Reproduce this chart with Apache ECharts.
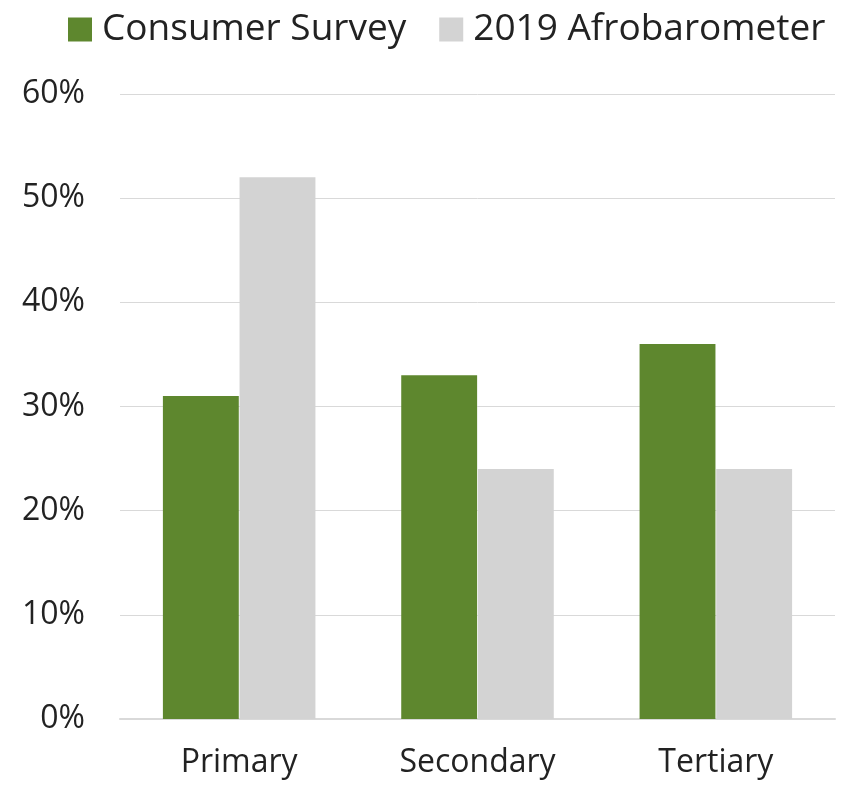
<!DOCTYPE html>
<html>
<head>
<meta charset="utf-8">
<script src="https://cdn.jsdelivr.net/npm/echarts@6/dist/echarts.min.js"></script>
<style>
  html, body { margin: 0; padding: 0; background: #fff; }
  #main { width: 851px; height: 785px; }
</style>
</head>
<body>
<div id="main"></div>
<script>
var categories = ["Primary", "Secondary", "Tertiary"];
var consumerSurvey = [31, 33, 36];
var afrobarometer = [52, 24, 24];
var seriesNames = ["Consumer Survey", "2019 Afrobarometer"];

var chartDom = document.getElementById("main");
var myChart = echarts.init(chartDom);
var option;

option = {
  animation: false,
  textStyle: { fontFamily: "Open Sans" },
  legend: {
    data: seriesNames,
    top: 6,
    left: 63,
    itemWidth: 24,
    itemHeight: 24,
    itemGap: 33,
    icon: "rect",
    textStyle: {
      fontSize: 37,
      color: "#222",
      fontFamily: "Open Sans",
      padding: [0, 0, 0, 5],
    },
  },
  grid: {
    left: 120,
    right: 16,
    top: 94,
    bottom: 66,
    containLabel: false,
  },
  xAxis: {
    type: "category",
    data: categories,
    axisTick: { show: false },
    axisLine: { lineStyle: { color: "#d9d9d9", width: 2 } },
    axisLabel: { fontSize: 32, color: "#222", margin: 28 },
  },
  yAxis: {
    type: "value",
    min: 0,
    max: 60,
    interval: 10,
    axisLabel: { fontSize: 32, color: "#222", margin: 35, formatter: "{value}%" },
    splitLine: { lineStyle: { color: "#d9d9d9", width: 1 } },
  },
  series: [
    {
      name: seriesNames[0],
      type: "bar",
      data: consumerSurvey,
      itemStyle: { color: "#5e872e" },
      barGap: "1%",
      barCategoryGap: "36%",
    },
    {
      name: seriesNames[1],
      type: "bar",
      data: afrobarometer,
      itemStyle: { color: "#d3d3d3" },
    },
  ],
};

option && myChart.setOption(option);
</script>
</body>
</html>
